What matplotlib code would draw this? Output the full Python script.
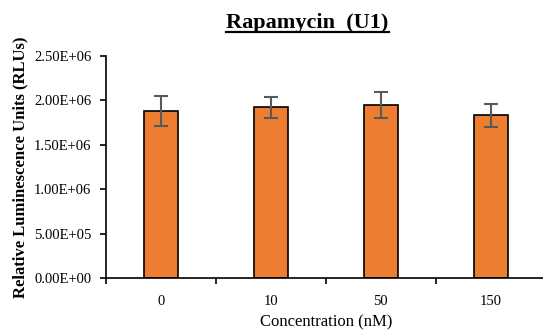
import numpy as np
import matplotlib.pyplot as plt
from matplotlib.lines import Line2D
from matplotlib.ticker import FuncFormatter, FixedLocator

plt.rcParams['font.family'] = 'Liberation Serif'

concentrations = ['0', '10', '50', '150']
rlu_mean = [1.88e6, 1.92e6, 1.95e6, 1.83e6]
rlu_err = [0.165e6, 0.12e6, 0.143e6, 0.125e6]

fig = plt.figure(figsize=(5.43, 3.33), dpi=100)
ax = fig.add_axes([0.195, 0.165, 0.81, 0.667])

x = np.arange(len(concentrations))
ax.bar(x, rlu_mean, width=0.31, color='#ED7D31', edgecolor='black', linewidth=1.2,
       yerr=rlu_err, error_kw=dict(ecolor='#595959', elinewidth=1.5, capsize=5, capthick=1.5))

ax.set_xlim(-0.5, 3.5)
ax.set_ylim(0, 2.5e6)
ax.set_yticks(np.arange(0, 2.51e6, 0.5e6))
ax.yaxis.set_major_formatter(FuncFormatter(lambda v, p: '%.2E' % v))
ax.set_xticks(x)
ax.set_xticklabels(concentrations)
ax.xaxis.set_minor_locator(FixedLocator(np.arange(-0.5, 3.6, 1.0)))
ax.tick_params(axis='x', which='major', length=0, pad=12, labelsize=10.5)
ax.tick_params(axis='x', which='minor', length=4, width=1.2, direction='out')
ax.tick_params(axis='y', length=4.5, width=1.2, direction='out', labelsize=10.5, pad=6)

for s in ['top', 'right']:
    ax.spines[s].set_visible(False)
for s in ['left', 'bottom']:
    ax.spines[s].set_linewidth(1.2)

ax.set_xlabel('Concentration (nM)', fontsize=12, labelpad=5)
ax.set_ylabel('Relative Luminescence Units (RLUs)', fontsize=12, fontweight='bold', labelpad=4)

# underlined bold title
title = fig.text(0.566, 0.93, 'Rapamycin  (U1)', fontsize=16, fontweight='bold',
                 ha='center', va='center')
fig.canvas.draw()
bb = title.get_window_extent().transformed(fig.transFigure.inverted())
fig.add_artist(Line2D([bb.x0, bb.x1], [bb.y0 + 0.005, bb.y0 + 0.005],
                      transform=fig.transFigure, color='black', linewidth=1.6))

fig.savefig('out.png', dpi=100)
